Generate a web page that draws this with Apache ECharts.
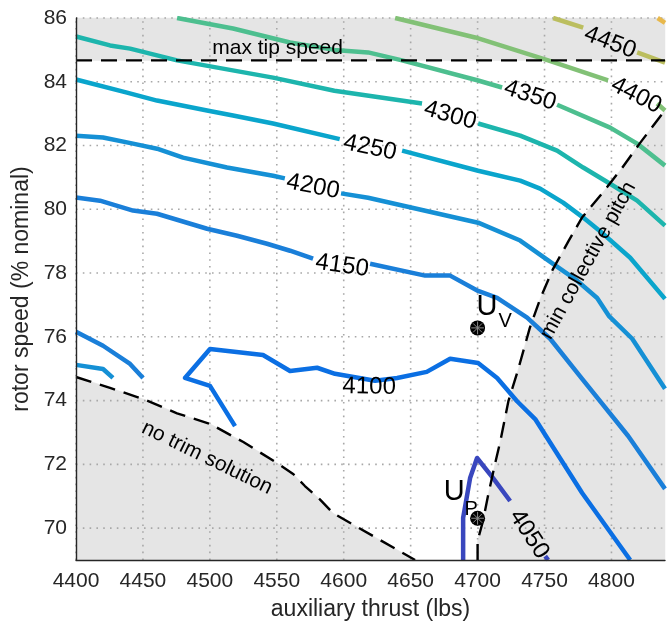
<!DOCTYPE html>
<html><head><meta charset="utf-8">
<script src="https://cdn.jsdelivr.net/npm/echarts@6/dist/echarts.min.js"></script>
<style>html,body{margin:0;padding:0;background:#fff}#c{width:670px;height:629px}</style>
</head><body><div id="c"></div>
<script>
// ---------- data ----------
const xTicks = [4400, 4450, 4500, 4550, 4600, 4650, 4700, 4750, 4800];
const yTicks = [70, 72, 74, 76, 78, 80, 82, 84, 86];
const xRange = [4400, 4840];
const yRange = [69, 86];
const levels = [4050, 4100, 4150, 4200, 4250, 4300, 4350, 4400, 4450, 4500];

// contour segments (auxiliary thrust, rotor speed)
const c4050 = [
  [[4689.2, 69.0], [4689.2, 70.32], [4694.4, 71.57], [4699.6, 72.20], [4711.6, 71.57], [4724.3, 70.85]],
  [[4750.5, 69.12], [4752.7, 69.0]]
];
const c4100 = [
  [[4518.8, 73.20], [4500.1, 74.46], [4481.4, 74.71], [4500.1, 75.62], [4539.7, 75.43], [4559.9, 74.93],
   [4580.1, 75.03], [4593.5, 74.84], [4623.4, 74.62], [4639.9, 74.71], [4662.0, 74.90], [4679.5, 75.31],
   [4700.4, 75.18], [4714.6, 74.71], [4729.5, 73.98], [4743.0, 73.42], [4778.1, 71.10], [4814.0, 69.0]]
];
const c4150 = [
  [[4400, 80.37], [4417.9, 80.27], [4442.6, 79.96], [4460.5, 79.86], [4497.9, 79.39], [4520.3, 79.17],
   [4542.7, 78.92], [4559.9, 78.70], [4577.1, 78.45]],
  [[4619.7, 78.29], [4660.8, 77.92], [4679.5, 77.92], [4700.4, 77.44], [4714.6, 77.22], [4737.0, 76.60],
   [4754.2, 75.94], [4778.1, 74.68], [4812.5, 72.89], [4840, 71.23]],
  [[4400, 76.16], [4420.2, 75.72], [4440.4, 75.15], [4450.1, 74.71]]
];
const c4200 = [
  [[4400, 82.31], [4420.2, 82.25], [4442.6, 82.06], [4460.5, 81.90], [4480.0, 81.62], [4512.8, 81.31],
   [4547.2, 81.05], [4556.0, 80.97]],
  [[4598.0, 80.50], [4618.2, 80.36], [4651.1, 80.05], [4700.4, 79.58], [4731.8, 79.02], [4756.4, 78.29],
   [4774.4, 77.76], [4789.3, 77.22], [4798.0, 76.66], [4815.5, 75.94], [4840, 74.37]],
  [[4400, 75.12], [4420.2, 74.99], [4427.6, 74.71]]
];
const c4250 = [
  [[4400, 84.07], [4438.1, 83.66], [4460.5, 83.41], [4497.9, 83.10], [4517.3, 82.94], [4547.2, 82.69], [4597.0, 82.20]],
  [[4643.6, 81.84], [4700.4, 81.21], [4731.8, 80.90], [4746.7, 80.65], [4763.9, 80.21], [4778.9, 79.74],
   [4793.8, 79.23], [4814.0, 78.48], [4840, 77.19]]
];
const c4300 = [
  [[4400, 85.42], [4425.4, 85.14], [4440.4, 85.04], [4475.5, 84.67], [4547.2, 84.13], [4593.0, 83.72], [4658.5, 83.32]],
  [[4700.4, 82.69], [4731.8, 82.31], [4759.4, 81.84], [4778.9, 81.31], [4799.0, 80.80], [4819.2, 80.27], [4840, 79.49]]
];
const c4350 = [
  [[4475.5, 86.0], [4517.3, 85.67], [4559.9, 85.23], [4593.0, 85.0], [4618.2, 84.92], [4643.6, 84.67],
   [4700.4, 84.04], [4718.3, 83.82]],
  [[4759.4, 83.28], [4799.0, 82.56], [4819.2, 82.06], [4840, 81.37]]
];
const c4400 = [
  [[4638.4, 86.0], [4698.2, 85.39], [4752.7, 84.67], [4797.5, 84.04]],
  [[4834.1, 83.32], [4840, 83.10]]
];
const c4450 = [
  [[4756.4, 86.0], [4778.9, 85.70]],
  [[4819.2, 84.92], [4840, 84.60]]
];
const c4500 = [
  [[4834.5, 86.0], [4840, 85.85]]
];

// infeasible boundaries
const maxTipSpeed = [[4400, 84.67], [4840, 84.67]];
const minPitch = [[4700, 69.0], [4700, 69.6], [4704, 70.22], [4708, 71.06], [4713, 72.01], [4717, 72.73],
  [4723, 73.98], [4730, 74.93], [4739, 76.28], [4747, 77.22], [4756, 78.10], [4768, 79.01], [4778, 79.74],
  [4793, 80.50], [4808, 81.30], [4821, 82.06], [4838, 83.00], [4840, 83.08]];
const noTrim = [[4400, 74.74], [4425.4, 74.40], [4450.1, 74.05], [4475.5, 73.60], [4500.1, 73.27], [4525, 72.70],
  [4550.2, 72.04], [4562.2, 71.70], [4571, 71.32], [4582, 70.91], [4592, 70.47], [4653.3, 69.0]];

// design points
const designPoints = [[4700, 76.28], [4700, 70.31]];

// text: [text, x, y, angle]
const contourLabels = [
  ['4450', 4799, 85.23, -21], ['4400', 4818.5, 83.57, -27], ['4350', 4739.3, 83.57, -18],
  ['4300', 4679.5, 82.94, -16], ['4250', 4619.7, 81.93, -12], ['4200', 4577.1, 80.71, -11],
  ['4150', 4598.8, 78.23, -8], ['4100', 4619, 74.43, -1], ['4050', 4738.5, 69.81, -57]
];
const regionLabels = [
  ['max tip speed', 4550.6, 85.04, 0], ['no trim solution', 4497.9, 72.2, -26], ['min collective pitch', 4782.6, 78.39, 61]
];
const pointLabels = [['U', 4707.1, 76.94, 0], ['U', 4682.5, 71.13, 0]];
const pointSubs = [['V', 4720.6, 76.49, 0], ['P', 4695.2, 70.58, 0]];

// ---------- style ----------
const FONT = '"Liberation Sans", Arial, Helvetica, sans-serif';
const levelColors = ['#3947be', '#0b6fe3', '#1a7fd9', '#1590d5', '#0aa5cc', '#1db5ad', '#4dbf8f', '#82c176', '#bbbe5f', '#e8b84b'];
const GRAY = '#e5e5e5';
const AX = '#262626';

const series = [];
function polygon(pts) {
  return { type: 'custom', z: 1, silent: true, animation: false, data: [pts[0]],
    renderItem: (p, api) => ({ type: 'polygon', shape: { points: pts.map(q => api.coord(q)) },
      style: { fill: GRAY, stroke: GRAY, lineWidth: 0.5 } }) };
}
series.push(polygon([...maxTipSpeed, [xRange[1], yRange[1]], [xRange[0], yRange[1]]]));
series.push(polygon([...minPitch, [xRange[1], yRange[0]]]));
series.push(polygon([...noTrim, [xRange[0], yRange[0]]]));

// dotted grid
series.push({ type: 'custom', z: 2, silent: true, animation: false, data: [[xRange[0], yRange[0]]],
  renderItem: (p, api) => {
    const ch = [];
    const st = { stroke: '#a8a8a8', lineWidth: 1.6, lineDash: [1.6, 5.2] };
    xTicks.forEach(v => { const a = api.coord([v, yRange[0]]), b = api.coord([v, yRange[1]]);
      ch.push({ type: 'line', shape: { x1: a[0], y1: a[1], x2: b[0], y2: b[1] }, style: st }); });
    yTicks.forEach(v => { const a = api.coord([xRange[0], v]), b = api.coord([xRange[1], v]);
      ch.push({ type: 'line', shape: { x1: a[0], y1: a[1], x2: b[0], y2: b[1] }, style: st }); });
    return { type: 'group', children: ch };
  } });

// contours
const contours = [c4050, c4100, c4150, c4200, c4250, c4300, c4350, c4400, c4450, c4500];
contours.forEach((segs, i) => segs.forEach(seg => series.push({
  type: 'line', name: String(levels[i]), data: seg, showSymbol: false, symbol: 'none', silent: true, z: 3,
  lineStyle: { color: levelColors[i], width: 4.5, join: 'round' }, animation: false })));

// dashed boundaries
[maxTipSpeed, minPitch, noTrim].forEach(d => series.push({
  type: 'line', data: d, showSymbol: false, symbol: 'none', silent: true, z: 4, animation: false,
  lineStyle: { color: '#000', width: 2.4, type: [16, 9] } }));

function texts(items, size, z) {
  return { type: 'custom', z, silent: true, animation: false, data: items.map(t => [t[1], t[2]]),
    renderItem: (p, api) => { const t = items[p.dataIndex]; const c = api.coord([t[1], t[2]]);
      return { type: 'text', x: c[0], y: c[1], rotation: t[3] * Math.PI / 180,
        style: { text: t[0], fontSize: size, fontFamily: FONT, fill: '#000', align: 'center', verticalAlign: 'middle' } }; } };
}
series.push(texts(contourLabels, 24, 5));
series.push(texts(regionLabels, 21, 5));
series.push(texts(pointLabels, 29, 5));
series.push(texts(pointSubs, 20, 5));

// markers
series.push({ type: 'custom', z: 6, silent: true, animation: false, data: designPoints,
  renderItem: (p, api) => {
    const c = api.coord([api.value(0), api.value(1)]); const r = 7.5; const ch = [
      { type: 'circle', shape: { cx: c[0], cy: c[1], r }, style: { fill: '#000' } }];
    [0, 45, 90, 135].forEach(a => { const rad = a * Math.PI / 180, L = r * 0.85;
      ch.push({ type: 'line', shape: { x1: c[0] - L * Math.cos(rad), y1: c[1] - L * Math.sin(rad), x2: c[0] + L * Math.cos(rad), y2: c[1] + L * Math.sin(rad) },
        style: { stroke: '#8a8a8a', lineWidth: 1 } }); });
    return { type: 'group', children: ch };
  } });

const chart = echarts.init(document.getElementById('c'), null, { renderer: 'canvas' });
chart.setOption({
  animation: false,
  textStyle: { fontFamily: FONT },
  grid: { left: 76, top: 18, right: 5, bottom: 69, containLabel: false, outerBoundsMode: 'none' },
  xAxis: { type: 'value', min: xRange[0], max: xRange[1], interval: 50, z: 10,
    name: 'auxiliary thrust (lbs)', nameLocation: 'middle', nameGap: 38,
    nameTextStyle: { fontSize: 23, color: AX, fontFamily: FONT },
    axisLine: { show: true, lineStyle: { color: AX, width: 1.4 } }, axisTick: { show: false }, splitLine: { show: false },
    axisLabel: { fontSize: 21, color: AX, margin: 11, fontFamily: FONT, formatter: v => xTicks.includes(v) ? String(v) : '' } },
  yAxis: { type: 'value', min: yRange[0], max: yRange[1], interval: 1, z: 10,
    name: 'rotor speed (% nominal)', nameLocation: 'middle', nameGap: 38,
    nameTextStyle: { fontSize: 23, color: AX, fontFamily: FONT },
    axisLine: { show: true, lineStyle: { color: AX, width: 1.4 } }, axisTick: { show: false }, splitLine: { show: false },
    axisLabel: { fontSize: 21, color: AX, margin: 9, fontFamily: FONT, formatter: v => yTicks.includes(v) ? String(v) : '' } },
  series
});
</script></body></html>
